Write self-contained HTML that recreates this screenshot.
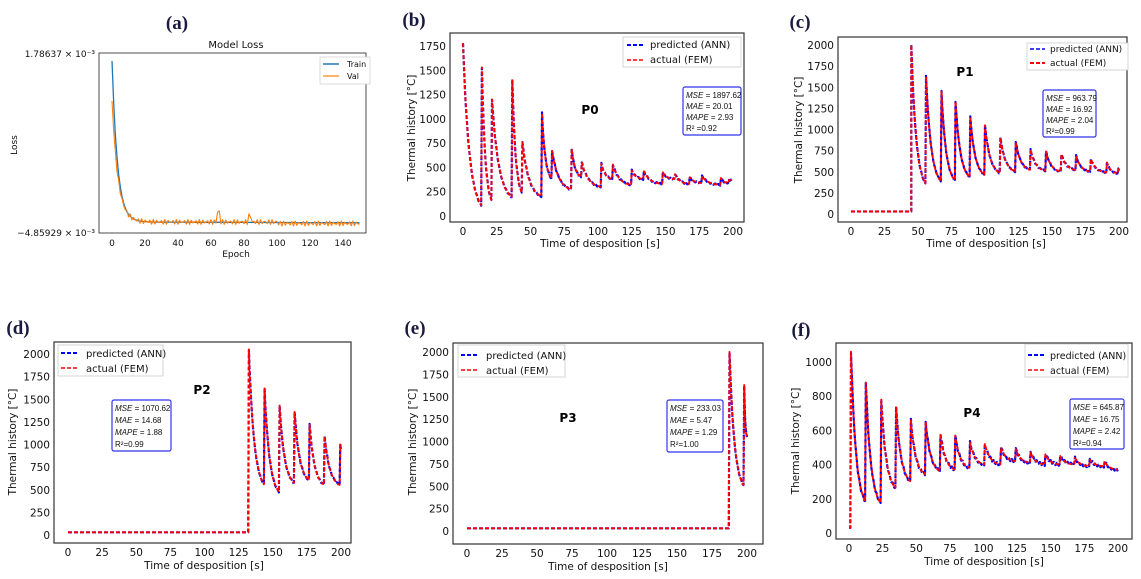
<!DOCTYPE html>
<html><head><meta charset="utf-8"><style>
html,body{margin:0;padding:0;background:#fff;}
svg{display:block;}
.t{font-family:"DejaVu Sans","Liberation Sans",sans-serif;font-size:10.5px;fill:#111;}
.r{text-anchor:end;}
.m{text-anchor:middle;}
.pl{font-family:"Liberation Serif",serif;font-weight:bold;font-size:19px;fill:#1a1a40;text-anchor:middle;}
.st{font-family:"Liberation Sans",sans-serif;font-size:8px;fill:#111;}
.pn{font-family:"DejaVu Sans",sans-serif;font-weight:bold;font-size:12px;fill:#000;text-anchor:middle;}
.lg{font-family:"DejaVu Sans",sans-serif;font-size:10px;fill:#111;}
</style></head><body>
<svg id="s" width="1141" height="579" viewBox="0 0 1141 579" xmlns="http://www.w3.org/2000/svg">
<rect width="1141" height="579" fill="#fff"/>
<!-- (a) -->
<text class="pl" x="177" y="29">(a)</text>
<text class="t m" x="236" y="48" style="font-size:10px">Model Loss</text>
<rect x="99" y="53" width="267" height="180" fill="none" stroke="#222" stroke-width="0.8"/>
<text class="t r" x="95" y="57" style="font-size:9px">1.78637 × 10⁻³</text>
<text class="t r" x="95" y="236" style="font-size:9px">−4.85929 × 10⁻³</text>
<text class="t m" transform="translate(17,145) rotate(-90)" style="font-size:9px">Loss</text>
<g class="t m" style="font-size:9px">
<text x="112" y="246">0</text><text x="145" y="246">20</text><text x="178" y="246">40</text><text x="211" y="246">60</text><text x="244" y="246">80</text><text x="277" y="246">100</text><text x="310" y="246">120</text><text x="343" y="246">140</text>
<text x="236" y="257">Epoch</text></g>
<rect x="320" y="57" width="50" height="27" fill="#fff" stroke="#ccc" stroke-width="0.7"/>
<line x1="323" y1="64" x2="339" y2="64" stroke="#1f77b4" stroke-width="1.5"/>
<line x1="323" y1="76" x2="339" y2="76" stroke="#ff7f0e" stroke-width="1.2"/>
<text class="t" x="347" y="67" style="font-size:8px">Train</text>
<text class="t" x="347" y="79" style="font-size:8px">Val</text>
<g id="ga"></g>

<!-- (b) -->
<text class="pl" x="414" y="26">(b)</text>
<rect x="450" y="33" width="294" height="189" fill="none" stroke="#333" stroke-width="1.2"/>
<g class="t r"><text x="446" y="220">0</text><text x="446" y="195.7">250</text><text x="446" y="171.4">500</text><text x="446" y="147.2">750</text><text x="446" y="122.9">1000</text><text x="446" y="98.6">1250</text><text x="446" y="74.3">1500</text><text x="446" y="50">1750</text></g>
<g class="t m"><text x="463" y="235">0</text><text x="496.75" y="235">25</text><text x="530.5" y="235">50</text><text x="564.25" y="235">75</text><text x="598" y="235">100</text><text x="631.75" y="235">125</text><text x="665.5" y="235">150</text><text x="699.25" y="235">175</text><text x="733" y="235">200</text>
<text x="600" y="247">Time of desposition [s]</text>
<text transform="translate(415,128) rotate(-90)">Thermal history [°C]</text></g>
<text class="pn" x="590" y="114">P0</text>
<g id="gb"></g>

<!-- (c) -->
<text class="pl" x="800" y="28">(c)</text>
<rect x="838" y="37" width="289" height="185" fill="none" stroke="#333" stroke-width="1.2"/>
<g class="t r"><text x="834" y="218">0</text><text x="834" y="196.9">250</text><text x="834" y="175.75">500</text><text x="834" y="154.6">750</text><text x="834" y="133.5">1000</text><text x="834" y="112.4">1250</text><text x="834" y="91.25">1500</text><text x="834" y="70.1">1750</text><text x="834" y="49">2000</text></g>
<g class="t m"><text x="851" y="235">0</text><text x="884.5" y="235">25</text><text x="918" y="235">50</text><text x="951.5" y="235">75</text><text x="985" y="235">100</text><text x="1018.5" y="235">125</text><text x="1052" y="235">150</text><text x="1085.5" y="235">175</text><text x="1119" y="235">200</text>
<text x="986" y="247">Time of desposition [s]</text>
<text transform="translate(802,130) rotate(-90)">Thermal history [°C]</text></g>
<text class="pn" x="965" y="76">P1</text>
<g id="gc"></g>

<!-- (d) -->
<text class="pl" x="18" y="334">(d)</text>
<rect x="54" y="342" width="297" height="201" fill="none" stroke="#333" stroke-width="1.2"/>
<g class="t r"><text x="50" y="539">0</text><text x="50" y="516.4">250</text><text x="50" y="493.75">500</text><text x="50" y="471.1">750</text><text x="50" y="448.5">1000</text><text x="50" y="425.9">1250</text><text x="50" y="403.25">1500</text><text x="50" y="380.6">1750</text><text x="50" y="358">2000</text></g>
<g class="t m"><text x="68" y="556">0</text><text x="102.1" y="556">25</text><text x="136.25" y="556">50</text><text x="170.4" y="556">75</text><text x="204.5" y="556">100</text><text x="238.6" y="556">125</text><text x="272.75" y="556">150</text><text x="306.9" y="556">175</text><text x="341" y="556">200</text>
<text x="204" y="569">Time of desposition [s]</text>
<text transform="translate(16,442) rotate(-90)">Thermal history [°C]</text></g>
<text class="pn" x="202" y="394">P2</text>
<g id="gd"></g>

<!-- (e) -->
<text class="pl" x="415" y="334">(e)</text>
<rect x="453" y="343" width="310" height="201" fill="none" stroke="#333" stroke-width="1.2"/>
<g class="t r"><text x="449" y="535">0</text><text x="449" y="512.6">250</text><text x="449" y="490.25">500</text><text x="449" y="467.9">750</text><text x="449" y="445.5">1000</text><text x="449" y="423.1">1250</text><text x="449" y="400.75">1500</text><text x="449" y="378.4">1750</text><text x="449" y="356">2000</text></g>
<g class="t m"><text x="467" y="557">0</text><text x="502" y="557">25</text><text x="537" y="557">50</text><text x="572" y="557">75</text><text x="607" y="557">100</text><text x="642" y="557">125</text><text x="677" y="557">150</text><text x="712" y="557">175</text><text x="747" y="557">200</text>
<text x="608" y="570">Time of desposition [s]</text>
<text transform="translate(416,442) rotate(-90)">Thermal history [°C]</text></g>
<text class="pn" x="568" y="422">P3</text>
<g id="ge"></g>

<!-- (f) -->
<text class="pl" x="801" y="336">(f)</text>
<rect x="836" y="343" width="296" height="196" fill="none" stroke="#333" stroke-width="1.2"/>
<g class="t r"><text x="832" y="537">0</text><text x="832" y="502.8">200</text><text x="832" y="468.6">400</text><text x="832" y="434.4">600</text><text x="832" y="400.2">800</text><text x="832" y="366">1000</text></g>
<g class="t m"><text x="849" y="552">0</text><text x="882.6" y="552">25</text><text x="916.25" y="552">50</text><text x="949.9" y="552">75</text><text x="983.5" y="552">100</text><text x="1017.1" y="552">125</text><text x="1050.75" y="552">150</text><text x="1084.4" y="552">175</text><text x="1118" y="552">200</text>
<text x="984" y="565">Time of desposition [s]</text>
<text transform="translate(799,441) rotate(-90)">Thermal history [°C]</text></g>
<text class="pn" x="972" y="417">P4</text>
<g id="gf"></g>

<g>
<rect x="623" y="37" width="118" height="30" fill="#fff" stroke="#ccc" stroke-width="0.8"/>
<line x1="627" y1="45" x2="643" y2="45" stroke="#0000ff" stroke-width="2" stroke-dasharray="4,2"/>
<line x1="627" y1="60" x2="643" y2="60" stroke="#ff0000" stroke-width="1.5" stroke-dasharray="4,2"/>
<text class="lg" x="650" y="48">predicted (ANN)</text><text class="lg" x="650" y="63">actual (FEM)</text>

<rect x="1027" y="43" width="101" height="27" fill="#fff" stroke="#ccc" stroke-width="0.8"/>
<line x1="1030" y1="49" x2="1045" y2="49" stroke="#0000ff" stroke-width="1.5" stroke-dasharray="4,2"/>
<line x1="1030" y1="63" x2="1045" y2="63" stroke="#ff0000" stroke-width="2" stroke-dasharray="4,2"/>
<text class="lg" x="1050" y="52" style="font-size:9px">predicted (ANN)</text><text class="lg" x="1050" y="66" style="font-size:9px">actual (FEM)</text>

<rect x="58" y="345" width="105" height="31" fill="#fff" stroke="#ccc" stroke-width="0.8"/>
<line x1="61" y1="353" x2="78" y2="353" stroke="#0000ff" stroke-width="2" stroke-dasharray="4,2"/>
<line x1="61" y1="368" x2="78" y2="368" stroke="#ff0000" stroke-width="1.5" stroke-dasharray="4,2"/>
<text class="lg" x="86" y="357">predicted (ANN)</text><text class="lg" x="86" y="372">actual (FEM)</text>

<rect x="458" y="345" width="107" height="32" fill="#fff" stroke="#ccc" stroke-width="0.8"/>
<line x1="461" y1="355" x2="478" y2="355" stroke="#0000ff" stroke-width="2" stroke-dasharray="4,2"/>
<line x1="461" y1="370" x2="478" y2="370" stroke="#ff0000" stroke-width="1.5" stroke-dasharray="4,2"/>
<text class="lg" x="486" y="359">predicted (ANN)</text><text class="lg" x="486" y="374">actual (FEM)</text>

<rect x="1025" y="344" width="103" height="33" fill="#fff" stroke="#ccc" stroke-width="0.8"/>
<line x1="1028" y1="355" x2="1045" y2="355" stroke="#0000ff" stroke-width="2" stroke-dasharray="4,2"/>
<line x1="1028" y1="370" x2="1045" y2="370" stroke="#ff0000" stroke-width="1.5" stroke-dasharray="4,2"/>
<text class="lg" x="1050" y="359" style="font-size:9.5px">predicted (ANN)</text><text class="lg" x="1050" y="374" style="font-size:9.5px">actual (FEM)</text>
</g>
<g fill="#fff" stroke="#3333ee" stroke-width="1.2">
<rect x="683" y="87" width="58" height="48" rx="2"/>
<rect x="1043" y="90" width="53" height="47" rx="2"/>
<rect x="112" y="400" width="59" height="51" rx="2"/>
<rect x="667" y="400" width="56" height="52" rx="2"/>
<rect x="1070" y="399" width="54" height="50" rx="2"/>
</g>
<g class="st">
<text x="686" y="98"><tspan font-style="italic">MSE</tspan> = 1897.62</text>
<text x="686" y="109"><tspan font-style="italic">MAE</tspan> = 20.01</text>
<text x="686" y="120"><tspan font-style="italic">MAPE</tspan> = 2.93</text>
<text x="686" y="131">R² =0.92</text>
<text x="1046" y="101"><tspan font-style="italic">MSE</tspan> = 963.79</text>
<text x="1046" y="112"><tspan font-style="italic">MAE</tspan> = 16.92</text>
<text x="1046" y="123"><tspan font-style="italic">MAPE</tspan> = 2.04</text>
<text x="1046" y="134">R²=0.99</text>
<text x="115" y="411"><tspan font-style="italic">MSE</tspan> = 1070.62</text>
<text x="115" y="423"><tspan font-style="italic">MAE</tspan> = 14.68</text>
<text x="115" y="435"><tspan font-style="italic">MAPE</tspan> = 1.88</text>
<text x="115" y="447">R²=0.99</text>
<text x="670" y="411"><tspan font-style="italic">MSE</tspan> = 233.03</text>
<text x="670" y="423"><tspan font-style="italic">MAE</tspan> = 5.47</text>
<text x="670" y="435"><tspan font-style="italic">MAPE</tspan> = 1.29</text>
<text x="670" y="447">R²=1.00</text>
<text x="1073" y="410"><tspan font-style="italic">MSE</tspan> = 645.87</text>
<text x="1073" y="422"><tspan font-style="italic">MAE</tspan> = 16.75</text>
<text x="1073" y="434"><tspan font-style="italic">MAPE</tspan> = 2.42</text>
<text x="1073" y="446">R²=0.94</text>
</g>
</svg>
<script>
var NS="http://www.w3.org/2000/svg";
function P(g,d,c,w,da){var p=document.createElementNS(NS,"path");p.setAttribute("d",d);p.setAttribute("fill","none");p.setAttribute("stroke",c);p.setAttribute("stroke-width",w);if(da)p.setAttribute("stroke-dasharray",da);p.setAttribute("stroke-linejoin","round");document.getElementById(g).appendChild(p);}
function series(flat,segs,jit){var pts=[];if(flat){for(var t=0;t<=flat[0];t+=1)pts.push([t,flat[1]]);}
for(var i=0;i<segs.length;i++){var s=segs[i],t0=s[0],pk=s[1],en=s[2],t1=(i+1<segs.length)?segs[i+1][0]:200;var D=t1-t0,k=3/Math.max(D,1);var n=Math.max(4,Math.round(D*2));
for(var j=0;j<n;j++){var u=j/n*D;var v=en+(pk-en)*(Math.exp(-k*u)-Math.exp(-k*D))/(1-Math.exp(-k*D));v+=jit*Math.sin(t0*7+j*1.3);pts.push([t0+u,v]);}
if(i+1==segs.length)pts.push([200,en]);}
return pts;}
function draw(g,pts,x0,sx,y0,sy,c,w){var d="";pts.forEach(function(p,i){d+=(i?"L":"M")+(x0+p[0]*sx).toFixed(1)+","+(y0-p[1]*sy).toFixed(1);});P(g,d,c,w,"4,2");}
function panel(g,flat,segs,x0,sx,y0,sy){draw(g,series(flat,segs,8),x0,sx,y0,sy,"#0000ff",2.2);draw(g,series(flat,segs,0),x0,sx,y0,sy,"#ff0000",1.9);}
panel("gb",null,[[0,1780,100],[14,1530,150],[21.5,1200,190],[36.5,1410,230],[44,760,200],[58.5,1060,380],[66,670,270],[80.5,690,400],[88,550,300],[102.5,540,380],[111,530,320],[125,470,380],[134,460,330],[148,450,380],[157,430,330],[168,400,340],[177,410,320],[191,390,340],[197,370,370]],463,1.35,216,0.0971);
panel("gc",[45,30],[[45,2000,350],[56,1630,380],[67.5,1450,390],[78,1330,430],[89,1150,460],[100,1050,480],[111.5,900,500],[123,850,520],[134,760,510],[145.5,740,500],[157,710,520],[168,690,500],[179,650,490],[191,610,480],[199.5,530,530]],851,1.34,214,0.0845);
panel("gd",[132,30],[[132.5,2050,550],[144,1620,470],[155,1430,570],[166,1360,600],[177,1220,550],[188,1090,550],[199.5,1000,950]],68,1.365,535,0.0905);
panel("ge",[187,30],[[187.5,2000,500],[198,1630,1050]],467,1.4,531,0.0895);
panel("gf",[1,30],[[1.5,1060,180],[12.5,880,170],[24,780,260],[35,740,300],[46,660,340],[57,650,360],[68,580,370],[79,570,380],[90,530,400],[101,520,400],[113,500,420],[124,490,410],[135,470,400],[146,460,400],[157,450,400],[168,440,390],[179,430,390],[190,420,370]],849,1.345,533,0.171);
var dt="",dv="";for(var e=0;e<=150;e++){var x=112+e*1.65;var yt=222-(222-61)*Math.exp(-e/3.3)+e*0.005;var yv=222-(222-101)*Math.exp(-e/3.6)+2.5*Math.sin(e*2.7)+((e==64||e==65)?-10:0)+((e==83||e==84)?-6:0);if(e>100)yv+=1.5;dt+=(e?"L":"M")+x.toFixed(1)+","+yt.toFixed(1);dv+=(e?"L":"M")+x.toFixed(1)+","+yv.toFixed(1);}
P("ga",dt,"#1f77b4",1.3);P("ga",dv,"#ff7f0e",1.1);
</script>
</body></html>
